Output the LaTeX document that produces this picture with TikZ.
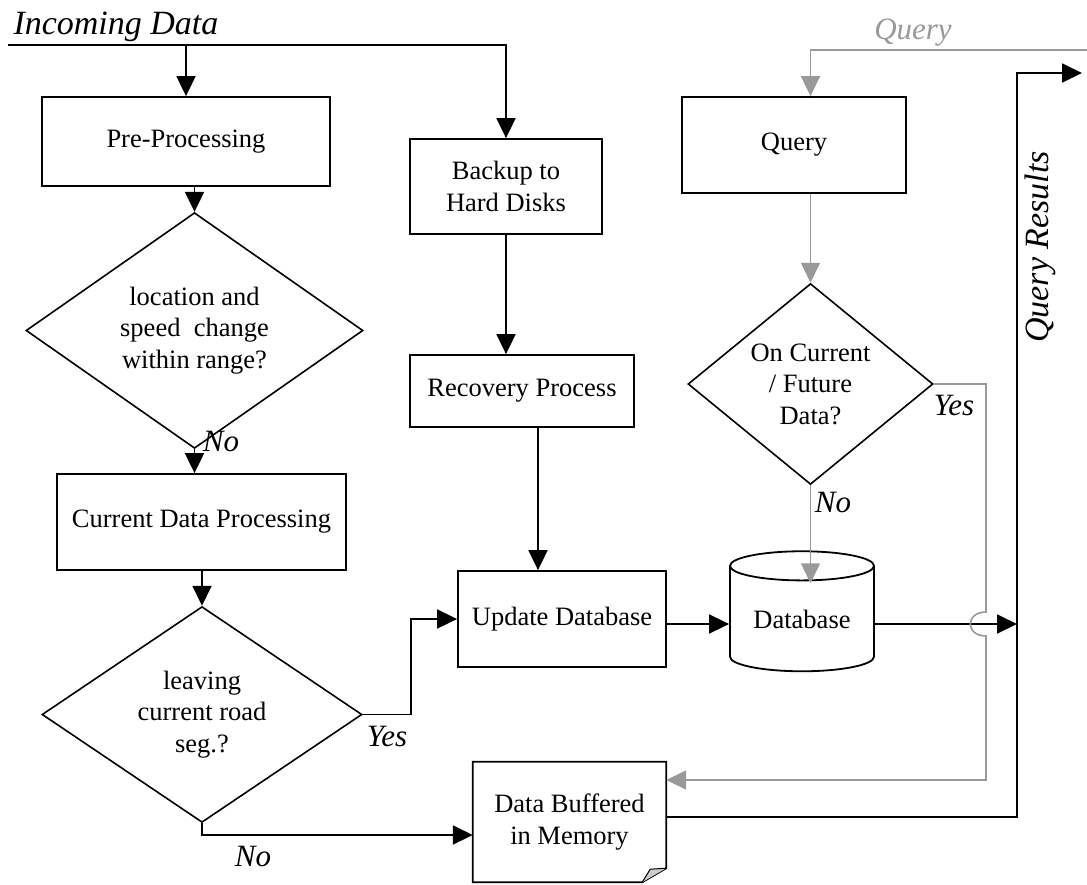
\documentclass[tikz,border=0pt]{standalone}
\usepackage{fontspec}
\setmainfont{Liberation Serif}
\usetikzlibrary{shapes.geometric,arrows.meta}
\begin{document}
\begin{tikzpicture}[x=1pt,y=-1pt,
    every node/.style={font=\fontsize{26.5}{31.5}\selectfont},
    block/.style={rectangle,draw,line width=1.8pt,align=center,inner sep=0pt},
    decide/.style={diamond,draw,line width=1.6pt,align=center,inner sep=0pt},
    dbase/.style={cylinder,shape border rotate=90,aspect=0.3,draw,line width=1.8pt,
                  minimum width=144pt,minimum height=120pt,inner sep=0pt},
    lbl/.style={font=\fontsize{31}{36}\selectfont\itshape},
    biglbl/.style={font=\fontsize{34}{40}\selectfont\itshape},
    ln/.style={line width=1.8pt},
    arr/.style={line width=1.8pt,-{Triangle[length=20pt,width=19pt]}},
    garr/.style={line width=1.6pt,color=black!40,-{Triangle[length=20pt,width=19pt]}}]
    \useasboundingbox (0,0) rectangle (1087,884);

    % left column
    \node[block, minimum width=288pt, minimum height=89pt] (pre) at (186,141.5) {Pre-Processing};
    \node[decide, minimum width=337pt, minimum height=191pt] (chk) at (194.5,330.5) {location and\\speed~~change\\within range?};
    \node[block, minimum width=289pt, minimum height=96pt] (cur) at (201.5,522) {Current Data Processing};
    \node[decide, minimum width=320pt, minimum height=191pt] (leave) at (202,714.5) {leaving\\current road\\seg.?};

    % middle column
    \node[block, minimum width=192pt, minimum height=95pt] (backup) at (506,186.5) {Backup to\\Hard Disks};
    \node[block, minimum width=224pt, minimum height=72pt] (recov) at (522,391) {Recovery Process};
    \node[block, minimum width=208pt, minimum height=96pt] (upd) at (562,619) {Update Database};
    \node[minimum width=193pt, minimum height=120pt, inner sep=0pt, align=center] (buf) at (569.5,822) {Data Buffered\\in Memory};
    \draw[ln] (buf.north west) -- (buf.north east) -- ([yshift=14pt]buf.south east)
        -- ([xshift=-24pt]buf.south east) -- (buf.south west) -- cycle;
    \filldraw[line width=1pt, fill=black!20] ([yshift=14pt]buf.south east)
        -- ([xshift=-16pt,yshift=13pt]buf.south east) -- ([xshift=-24pt]buf.south east);

    % right column
    \node[block, minimum width=224pt, minimum height=96pt] (query) at (794,145) {Query};
    \node[decide, minimum width=245pt, minimum height=190pt] (cf) at (810.5,384) {On Current\\/ Future\\Data?};
    \node[dbase] (db) at (802,619) {Database};

    % labels
    \node[biglbl, anchor=base west] (inlbl) at (10,34) {Incoming Data};
    \node[lbl, anchor=base, text=black!40] (qlbl) at (913,39) {Query};
    \node[biglbl, rotate=90] (reslbl) at (1040,247) {Query Results};
    \node[lbl] (no1) at (221,441) {No};
    \node[lbl] (yes1) at (387,736) {Yes};
    \node[lbl] (no2) at (253,856) {No};
    \node[lbl] (no3) at (833,502) {No};
    \node[lbl] (yes2) at (954,405) {Yes};

    \coordinate (inL) at (8,45);
    \coordinate (res) at (1017,73);
    \coordinate (resOut) at (1082,73);
    \coordinate (qIn) at (1087,50);
    \coordinate (hopT) at (986,612);
    \coordinate (hopB) at (986,636);

    % incoming data
    \draw[arr] (inL) -| (backup.north);
    \draw[arr] (inL -| pre.north) -- (pre.north);
    \draw[arr] (chk.north |- pre.south) -- (chk.north);
    \draw[arr] (chk.south) -- (chk.south |- cur.north);
    \draw[arr] (leave.north |- cur.south) -- (leave.north);
    \draw[arr] (leave.east) -- ++(48,0) |- (upd.west);
    \draw[arr] (leave.south) |- ([yshift=-13pt]buf.west);
    \draw[arr] (backup.south) -- (backup.south |- recov.north);
    \draw[arr] ([xshift=16pt]recov.south) -- ([xshift=16pt]recov.south |- upd.north);
    \draw[arr] (upd.east |- 0,624) -- (db.west |- 0,624);

    % results
    \draw[arr] (db.east |- 0,624) -- (res |- 0,624);
    \draw[arr] ([yshift=5pt]buf.east) -| (res) -- (resOut);

    % query path
    \draw[garr] (qIn) -| (cf.north |- query.north);
    \draw[garr] (cf.north |- query.south) -- (cf.north);
    \draw[garr] (cf.south) -- ++(0,98);
    \draw[garr] (cf.east) -| (hopT) .. controls ([xshift=-21pt]hopT) and ([xshift=-21pt]hopB) .. (hopB)
        |- ([yshift=42pt]buf.east);
\end{tikzpicture}
\end{document}
